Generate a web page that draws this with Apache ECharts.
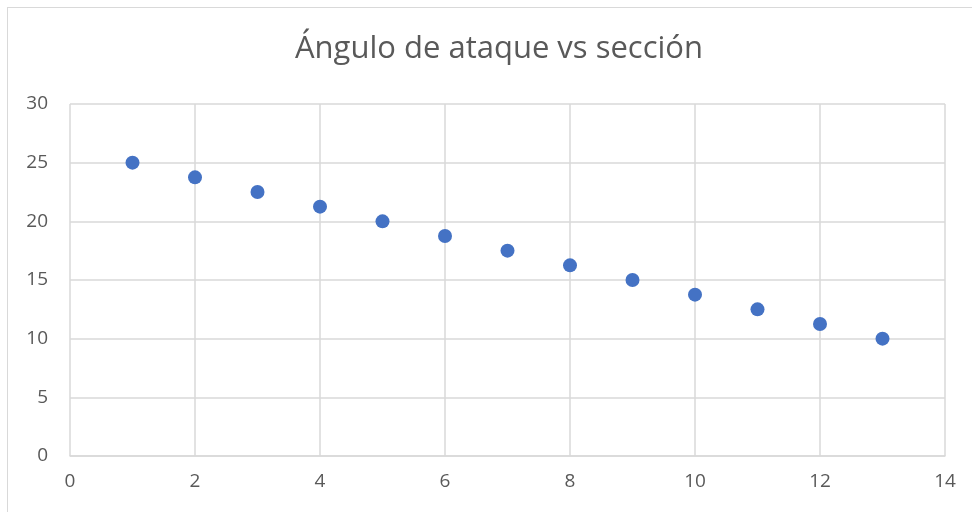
<!DOCTYPE html>
<html>
<head>
<meta charset="utf-8">
<script src="https://cdn.jsdelivr.net/npm/echarts@6/dist/echarts.min.js"></script>
<style>
  html, body { margin: 0; padding: 0; background: #fff; }
  #frame { position: absolute; left: 7px; top: 7px; width: 975px; height: 520px; border: 1px solid #d9d9d9; box-sizing: border-box; }
  #chart { position: absolute; left: 0; top: 0; width: 972px; height: 512px; }
</style>
</head>
<body>
<div id="frame"></div>
<div id="chart"></div>
<script>
const titleText = 'Ángulo de ataque vs sección';
const sections = [1, 2, 3, 4, 5, 6, 7, 8, 9, 10, 11, 12, 13];
const angles = [25, 23.75, 22.5, 21.25, 20, 18.75, 17.5, 16.25, 15, 13.75, 12.5, 11.25, 10];

const points = sections.map((s, i) => [s, angles[i]]);
const fontFamily = '"Open Sans", "Noto Sans", sans-serif';

const chart = echarts.init(document.getElementById('chart'), null, { renderer: 'canvas' });
chart.setOption({
  animation: false,
  title: {
    text: titleText,
    left: 290,
    top: 29,
    textStyle: { fontFamily, fontSize: 31, fontWeight: 'normal', color: '#595959' }
  },
  grid: { left: 70, right: 27, top: 104, bottom: 56 },
  xAxis: {
    type: 'value',
    min: 0, max: 14, interval: 2,
    axisLine: { show: true, lineStyle: { color: '#d9d9d9', width: 1.5 } },
    axisTick: { show: false },
    axisLabel: { color: '#595959', fontFamily, fontSize: 19, margin: 16 },
    splitLine: { show: true, lineStyle: { color: '#d9d9d9', width: 1.5 } }
  },
  yAxis: {
    type: 'value',
    min: 0, max: 30, interval: 5,
    axisLine: { show: false },
    axisTick: { show: false },
    axisLabel: { color: '#595959', fontFamily, fontSize: 19, margin: 22 },
    splitLine: { show: true, lineStyle: { color: '#d9d9d9', width: 1.5 } }
  },
  series: [{
    type: 'scatter',
    data: points,
    symbol: 'circle',
    symbolSize: 14,
    itemStyle: { color: '#4472c4', opacity: 1 }
  }]
});
</script>
</body>
</html>
